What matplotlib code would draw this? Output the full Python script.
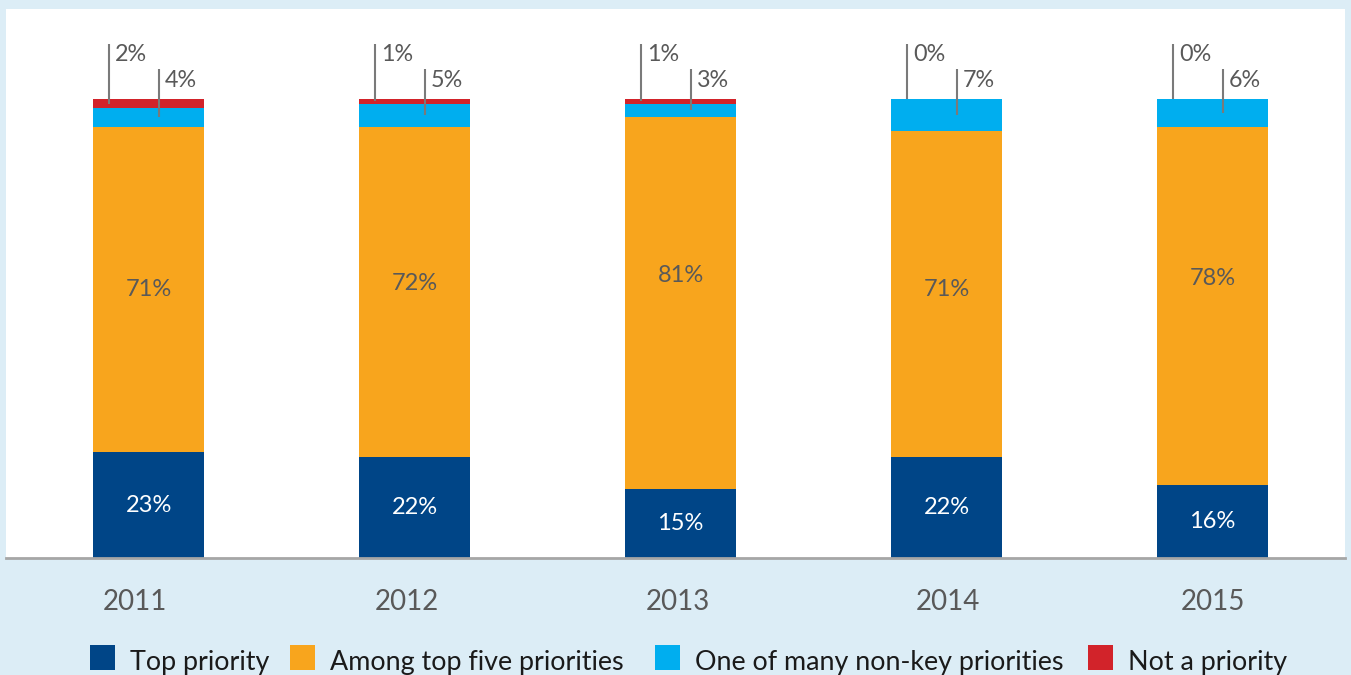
import matplotlib
matplotlib.use("Agg")
import matplotlib.pyplot as plt
from matplotlib.patches import Rectangle

plt.rcParams['font.family'] = ['Lato', 'DejaVu Sans']

years = ["2011", "2012", "2013", "2014", "2015"]
top_priority = [23, 22, 15, 22, 16]
top_five = [71, 72, 81, 71, 78]
non_key = [4, 5, 3, 7, 6]
not_priority = [2, 1, 1, 0, 0]

series_names = ["Top priority", "Among top five priorities",
                "One of many non-key priorities", "Not a priority"]
colors = ["#004587", "#f8a51d", "#00aeef", "#d2232a"]

BG = "#dcedf6"
TXT = "#595959"

W, H = 1351, 675
fig = plt.figure(figsize=(W / 100, H / 100), dpi=100, facecolor=BG)

# plot area in pixel terms
left_px, right_px, top_px, base_px = 6, 1345, 9, 558
ax = fig.add_axes([left_px / W, 1 - base_px / H,
                   (right_px - left_px) / W, (base_px - top_px) / H])
ax.set_facecolor("white")

px_per_unit = (base_px - 99) / 100.0
ymax = (base_px - top_px) / px_per_unit
ax.set_ylim(0, ymax)
ax.set_xlim(-0.536, 4.498)

x = list(range(len(years)))
bw = 0.417

bottoms = [0] * len(years)
for vals, c in zip([top_priority, top_five, non_key, not_priority], colors):
    ax.bar(x, vals, bw, bottom=bottoms, color=c, linewidth=0, zorder=2)
    bottoms = [b + v for b, v in zip(bottoms, vals)]

# labels inside the two lower segments
orange_frac = [0.50, 0.525, 0.575, 0.514, 0.576]
for i in x:
    ax.text(i, top_priority[i] / 2, f"{top_priority[i]}%", ha="center", va="center",
            color="white", fontsize=17, zorder=3)
    ax.text(i, top_priority[i] + top_five[i] * orange_frac[i], f"{top_five[i]}%",
            ha="center", va="center", color=TXT, fontsize=17, zorder=3)

# leader-line labels for the two thin top segments
line_c = "#7a7a7a"
for i in x:
    total = top_priority[i] + top_five[i] + non_key[i] + not_priority[i]
    red_mid = total - not_priority[i] / 2
    cyan_mid = top_priority[i] + top_five[i] + non_key[i] / 2
    xr = i - 0.1485
    ax.plot([xr, xr], [red_mid, 112.0], color=line_c, lw=1.5, zorder=4,
            solid_capstyle="butt")
    ax.text(xr + 0.022, 109.6, f"{not_priority[i]}%", ha="left", va="center",
            color=TXT, fontsize=16.8)
    xc = i + 0.0395
    ax.plot([xc, xc], [cyan_mid, 106.5], color=line_c, lw=1.5, zorder=4,
            solid_capstyle="butt")
    ax.text(xc + 0.022, 104.1, f"{non_key[i]}%", ha="left", va="center",
            color=TXT, fontsize=16.8)

for s in ["left", "right", "top"]:
    ax.spines[s].set_visible(False)
ax.spines["bottom"].set_color("#a6a6a6")
ax.spines["bottom"].set_linewidth(2)
ax.set_yticks([])
# year labels sit slightly off the bar centres
tick_shift = [-0.05, -0.028, -0.011, 0.004, 0.0]
ax.set_xticks([i + s for i, s in zip(x, tick_shift)])
ax.set_xticklabels(years, fontsize=20, color=TXT)
ax.tick_params(axis="x", length=0, pad=22)

# legend row along the bottom edge
leg_x = [90, 290, 655, 1088]
sq = 25
for lx, name, c in zip(leg_x, series_names, colors):
    fig.patches.append(Rectangle((lx / W, 1 - 670 / H), sq / W, sq / H,
                                 transform=fig.transFigure, color=c, lw=0))
    fig.text((lx + 40) / W, 1 - 670 / H, name, ha="left", va="baseline",
             fontsize=19.4, color="#1a1a1a")

fig.savefig("out.png", dpi=100, facecolor=BG)
